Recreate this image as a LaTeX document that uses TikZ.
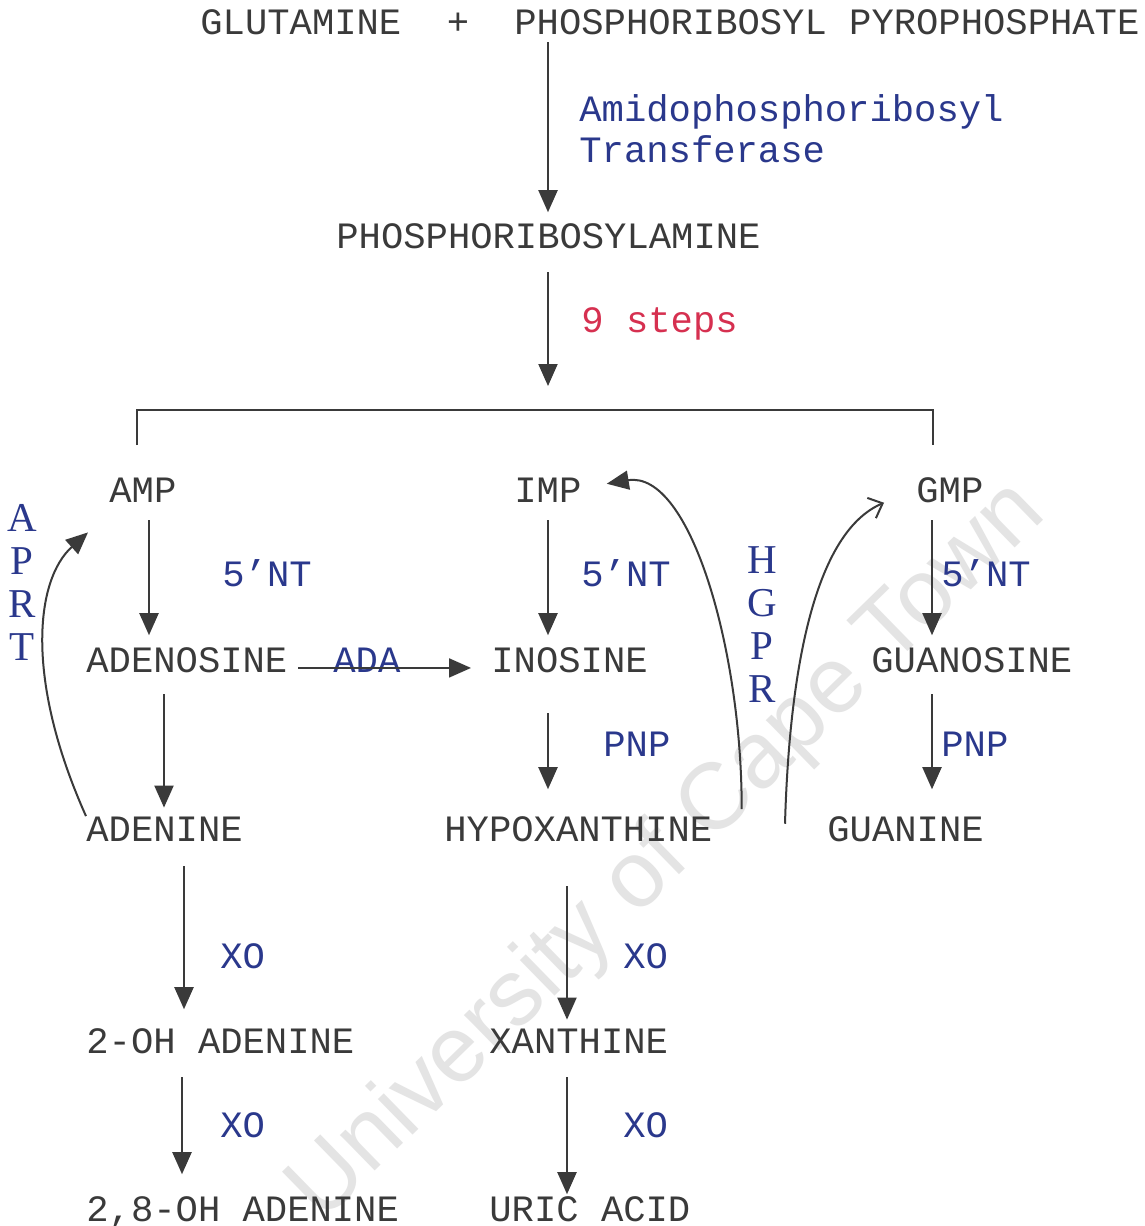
\documentclass[tikz,border=0pt]{standalone}
\usepackage{fontspec}
\setmainfont{Liberation Serif}
\newfontfamily\monof{Liberation Mono}
\newfontfamily\seriff{Liberation Serif}
\newfontfamily\wmf{Liberation Sans}
\usetikzlibrary{arrows.meta}
\definecolor{ink}{RGB}{58,58,58}
\definecolor{enz}{RGB}{42,56,140}
\definecolor{stepred}{RGB}{214,48,80}
\definecolor{wmark}{RGB}{228,228,228}
\begin{document}
\begin{tikzpicture}[x={(0.5pt,0pt)},y={(0pt,-0.5pt)},
  chem/.style={anchor=base west, inner sep=0pt, text=ink, font=\monof\fontsize{18.6}{22}\selectfont},
  enzlab/.style={chem, text=enz},
  redlab/.style={chem, text=stepred},
  letters/.style={inner sep=0pt, text=enz, align=center, font=\seriff\fontsize{20.5}{21.5}\selectfont},
  conn/.style={draw=ink, line width=1pt},
  arr/.style={conn, -{Triangle[length=11pt,width=9.5pt]}},
  openarr/.style={conn, -{Straight Barb[length=6pt,width=11pt,line width=1pt]}},
]
\useasboundingbox (0,0) rectangle (1145,1226);
\fill[white] (0,0) rectangle (1145,1226);

% watermark
\node[rotate=44.3, text=wmark, inner sep=0pt, font=\wmf\fontsize{47}{47}\selectfont] (wm) at (668,852) {University of Cape Town};

% column coordinates
\coordinate (k149) at (149,0);
\coordinate (k164) at (164,0);
\coordinate (k182) at (182,0);
\coordinate (k184) at (184,0);
\coordinate (k548) at (548,0);
\coordinate (k567) at (567,0);
\coordinate (k932) at (932,0);

% top
\node[chem] (glu) at (200,34) {GLUTAMINE};
\node[chem, anchor=base] (plus) at (458,34) {+};
\node[chem] (prpp) at (514,34) {PHOSPHORIBOSYL PYROPHOSPHATE};
\node[enzlab] (enz1a) at (579,121) {Amidophosphoribosyl};
\node[enzlab] (enz1b) at (579,162) {Transferase};
\node[chem] (pra) at (336,248) {PHOSPHORIBOSYLAMINE};
\node[redlab] (nine) at (581,332) {9 steps};

% bracket
\coordinate (brL) at (137,410);
\coordinate (brR) at (933,410);
\coordinate (br) at (548,410);
\draw[conn] ([yshift=-17.5pt]brL) -- (brL) -- (brR) -- ([yshift=-17.5pt]brR);

% nucleotides
\node[chem] (amp) at (109,502) {AMP};
\node[chem] (imp) at (514,502) {IMP};
\node[chem] (gmp) at (916,502) {GMP};
\node[enzlab] (nt1) at (222,586) {5’NT};
\node[enzlab] (nt2) at (581,586) {5’NT};
\node[enzlab] (nt3) at (941,586) {5’NT};
\node[chem] (adenosine) at (86,672) {ADENOSINE};
\node[chem] (inosine) at (491,672) {INOSINE};
\node[chem] (guanosine) at (871,672) {GUANOSINE};
\node[enzlab] (ada) at (333,672) {ADA};
\node[enzlab] (pnp1) at (603,756) {PNP};
\node[enzlab] (pnp2) at (941,756) {PNP};
\node[chem] (adenine) at (86,841) {ADENINE};
\node[chem] (hypox) at (444,841) {HYPOXANTHINE};
\node[chem] (guanine) at (827,841) {GUANINE};
\node[enzlab] (xo1) at (220,968) {XO};
\node[enzlab] (xo2) at (623,968) {XO};
\node[chem] (ohad) at (86,1053) {2-OH ADENINE};
\node[chem] (xan) at (489,1053) {XANTHINE};
\node[enzlab] (xo3) at (220,1137) {XO};
\node[enzlab] (xo4) at (623,1137) {XO};
\node[chem] (ohad28) at (86,1221) {2,8-OH ADENINE};
\node[chem] (uric) at (489,1221) {URIC ACID};

\node[letters] (aprt) at (22,582) {A\\P\\R\\T};
\node[letters] (hgpr) at (762,625) {H\\G\\P\\R};

% straight arrows
\draw[arr, shorten <=4pt, shorten >=5.25pt] (prpp.base -| k548) -- (pra.north -| k548);
\draw[arr, shorten <=12pt, shorten >=12pt] (pra.base -| k548) -- (br);
\draw[arr, shorten <=9pt, shorten >=5.75pt] (amp.base -| k149) -- (adenosine.north -| k149);
\draw[arr, shorten <=9pt, shorten >=5.75pt] (imp.base -| k548) -- (inosine.north -| k548);
\draw[arr, shorten <=9pt, shorten >=5.75pt] (gmp.base -| k932) -- (guanosine.north -| k932);
\draw[arr, shorten <=11pt, shorten >=4.25pt] (adenosine.base -| k164) -- (adenine.north -| k164);
\draw[arr, shorten <=20.5pt, shorten >=13.25pt] (inosine.base -| k548) -- (hypox.north -| k548);
\draw[arr, shorten <=11pt, shorten >=13.25pt] (guanosine.base -| k932) -- (guanine.north -| k932);
\draw[arr, shorten <=12.5pt, shorten >=9.25pt] (adenine.base -| k184) -- (ohad.north -| k184);
\draw[arr, shorten <=22.5pt, shorten >=4.25pt] (hypox.base -| k567) -- (xan.north -| k567);
\draw[arr, shorten <=12pt, shorten >=10.75pt] (ohad.base -| k182) -- (ohad28.north -| k182);
\draw[arr, shorten <=12pt, shorten >=0.75pt] (xan.base -| k567) -- (uric.north -| k567);
\draw[arr, shorten <=5.2pt, shorten >=10pt] ([yshift=-4.1pt]adenosine.east) -- ([yshift=-4.1pt]inosine.west);

% salvage curves
\draw[arr] (adenine.north west) .. controls (25,680) and (35,580) .. ([shift={(-10.5pt,-15pt)}]amp.south west);
\draw[arr] ([shift={(14.5pt,3.25pt)}]hypox.north east) .. controls (742,650) and (690,470) .. ([shift={(12.5pt,3pt)}]imp.east);
\draw[openarr] ([shift={(-21pt,2.5pt)}]guanine.west) .. controls (790,650) and (820,530) .. ([shift={(-16pt,-6.5pt)}]gmp.west);
\end{tikzpicture}
\end{document}
